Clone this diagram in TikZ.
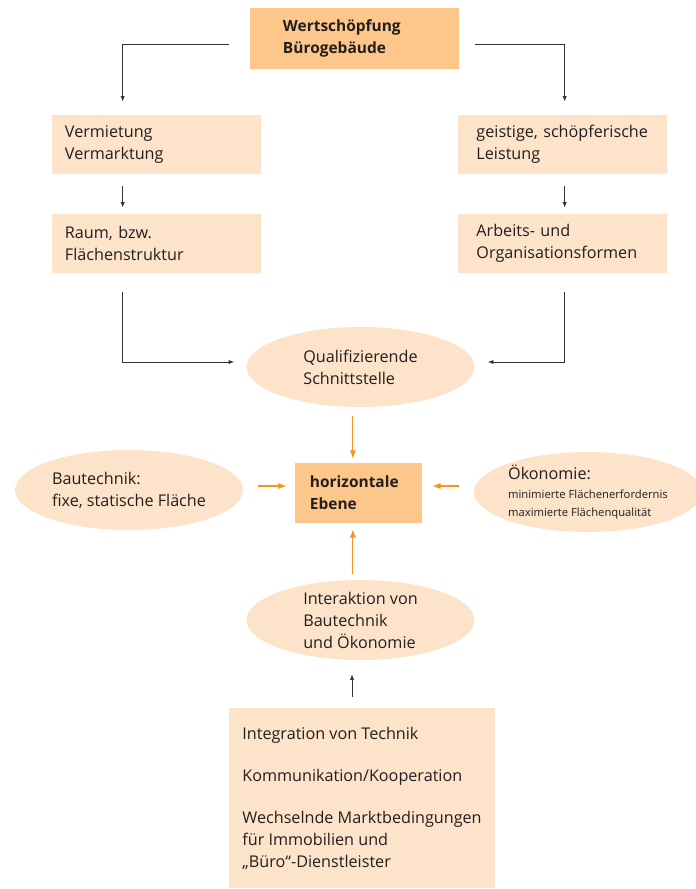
\documentclass[tikz,border=0pt]{standalone}
\usepackage{fontspec}
\setmainfont{Open Sans}
\usetikzlibrary{arrows.meta,positioning,calc,shapes.geometric}

\definecolor{headorange}{HTML}{FDC68A}
\definecolor{lightorange}{HTML}{FDE3C9}
\definecolor{arrorange}{HTML}{F7941D}
\definecolor{txtgray}{HTML}{231F20}

\begin{document}
\begin{tikzpicture}[
  x=0.025cm, y=-0.025cm,
  font=\fontsize{11.5}{15.65}\selectfont,
  text=txtgray,
  box/.style={rectangle, inner sep=0pt, align=left, minimum height=1.5cm},
  headbox/.style={box, fill=headorange, font=\fontsize{11}{15.65}\selectfont\bfseries},
  light/.style={box, fill=lightorange, minimum width=5.225cm, minimum height=1.475cm, text width=4.575cm},
  oval/.style={ellipse, fill=lightorange, inner sep=0pt, align=left, minimum width=5.7cm, minimum height=2cm},
  arr/.style={-{Latex[length=4pt,width=3pt]}, line width=0.6pt, draw=black!80},
  oarr/.style={-{Latex[length=6pt,width=4.5pt]}, line width=0.8pt, draw=arrorange}
]
\useasboundingbox (0,0) rectangle (696,889);

\node[headbox, minimum width=5.225cm, text width=3.575cm] (top) at (354.5,38.5) {Wertschöpfung\\Bürogebäude};
\node[light] (verm) at (156.5,144.5) {Vermietung\\Vermarktung};
\node[light, text width=4.3cm] (geist) at (562.5,144.5) {geistige, schöpferische\\Leistung};
\node[light] (raum) at (156.5,243.5) {Raum, bzw.\\Flächenstruktur};
\node[light, text width=4.3cm] (arbeit) at (562.5,243.5) {Arbeits- und\\Organisationsformen};
\node[oval] (quali) at (360.5,367) {Qualifizierende\\Schnittstelle};
\node[headbox, minimum width=3.175cm, text width=2.425cm] (ebene) at (358.5,493) {horizontale\\Ebene};
\node[oval] (bau) at (129,490) {Bautechnik:\\fixe, statische Fläche};
\node[oval] (oeko) at (588,492) {Ökonomie:\\[-2pt]{\fontsize{8}{12.5}\selectfont minimierte Flächenerfordernis}\\[-3pt]{\fontsize{8}{12.5}\selectfont maximierte Flächenqualität}};
\node[oval] (inter) at (360.5,620) {Interaktion von\\Bautechnik\\und Ökonomie};
\node[box, fill=lightorange, minimum width=6.65cm, minimum height=4.5cm] (stand) at (362,798)
  {Integration von Technik\\[0.5cm]Kommunikation/Kooperation\\[0.5cm]Wechselnde Marktbedingungen\\für Immobilien und\\„Büro“-Dienstleister};

\draw[arr, shorten <=0.525cm, shorten >=0.325cm] ([yshift=-0.14cm]top.west) -| ($(verm.north west)+(71,0)$);
\draw[arr, shorten <=0.4cm, shorten >=0.325cm] ([yshift=-0.14cm]top.east) -| ($(geist.north west)+(107,0)$);
\draw[arr, shorten <=0.3cm, shorten >=0.15cm] ($(verm.south west)+(71,0)$) -- ($(raum.north west)+(71,0)$);
\draw[arr, shorten <=0.3cm, shorten >=0.15cm] ($(geist.south west)+(107,0)$) -- ($(arbeit.north west)+(107,0)$);
\draw[arr, shorten <=0.475cm, shorten >=0.3cm] ($(raum.south west)+(71,0)$) |- ([yshift=0.125cm]quali.west);
\draw[arr, shorten <=0.475cm, shorten >=0.325cm] ($(arbeit.south west)+(107,0)$) |- ([yshift=0.125cm]quali.east);

\draw[oarr, shorten <=0.225cm, shorten >=0.1cm] ([xshift=-0.14cm]ebene.north |- quali.south) -- ([xshift=-0.14cm]ebene.north);
\draw[oarr, shorten <=0.375cm, shorten >=0.2cm] ([yshift=0.175cm]ebene.west -| bau.east) -- ([yshift=0.175cm]ebene.west);
\draw[oarr, shorten <=0.375cm, shorten >=0.25cm] ([yshift=0.175cm]ebene.east -| oeko.west) -- ([yshift=0.175cm]ebene.east);
\draw[oarr, shorten <=0.15cm, shorten >=0.15cm] ([xshift=-0.14cm]ebene.south |- inter.north) -- ([xshift=-0.14cm]ebene.south);
\draw[arr, shorten <=0.275cm, shorten >=0.35cm] ([xshift=-0.25cm]stand.north) -- ([xshift=-0.25cm]stand.north |- inter.south);
\end{tikzpicture}
\end{document}
